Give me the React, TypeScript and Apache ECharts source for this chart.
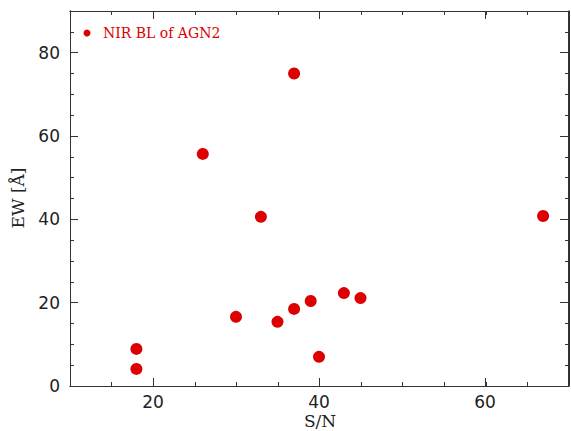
import React, { useEffect, useRef } from "react";
import * as echarts from "echarts";

const seriesName = "NIR BL of AGN2";
const xTitle = "S/N";
const yTitle = "EW [Å]";
const snValues = [18, 18, 26, 30, 33, 35, 37, 37, 39, 40, 43, 45, 67];
const ewValues = [8.9, 4.1, 55.7, 16.6, 40.6, 15.4, 75.0, 18.5, 20.4, 7.0, 22.3, 21.1, 40.8];
const xMajorTicks = [20, 40, 60];
const yMajorTicks = [0, 20, 40, 60, 80];
const xRange = [10, 70];
const yRange = [0, 90];

const AXIS_COLOR = "#333";
const RED = "#dc0000";
const numFont = "DejaVu Sans";
const serifFont = "DejaVu Serif";

export default function App() {
  const ref = useRef<HTMLDivElement>(null);
  useEffect(() => {
    if (!ref.current) return;
    const chart = echarts.init(ref.current, undefined, { renderer: "svg" });
    const gridRect = { left: 70, right: 2, top: 11, bottom: 45 };
    const mk = (kind: "x" | "y", gi: number, pos: string, major: boolean, labels: boolean) => {
      const customs = kind === "x" ? xMajorTicks : yMajorTicks;
      return {
        type: "value",
        gridIndex: gi,
        position: pos,
        min: kind === "x" ? xRange[0] : yRange[0],
        max: kind === "x" ? xRange[1] : yRange[1],
        interval: 5,
        axisLine: { show: true, onZero: false, lineStyle: { color: AXIS_COLOR, width: 1 } },
        axisTick: major
          ? { show: true, inside: true, length: 8, customValues: customs, lineStyle: { color: AXIS_COLOR, width: 1 } }
          : { show: true, inside: true, length: 4, lineStyle: { color: AXIS_COLOR, width: 1 } },
        axisLabel: labels
          ? {
              show: true,
              margin: kind === "x" ? 7 : 10,
              fontFamily: numFont,
              fontSize: 17,
              color: "#222",
              formatter: (v: number) => (customs.indexOf(v) >= 0 ? String(v) : ""),
            }
          : { show: false },
        splitLine: { show: false },
      } as any;
    };
    chart.setOption({
      animation: false,
      grid: [{ ...gridRect }, { ...gridRect }],
      graphic: [
        {
          type: "circle",
          shape: { cx: 87, cy: 33, r: 3.5 },
          style: { fill: RED },
        },
        {
          type: "text",
          x: 103,
          y: 33,
          style: {
            text: seriesName,
            fontFamily: serifFont,
            fontSize: 14,
            fill: RED,
            textAlign: "left",
            textVerticalAlign: "middle",
          },
        },
        {
          type: "text",
          x: 320,
          y: 421,
          style: {
            text: xTitle,
            fontFamily: serifFont,
            fontSize: 17,
            fill: "#222",
            textAlign: "center",
            textVerticalAlign: "middle",
          },
        },
        {
          type: "text",
          x: 18,
          y: 198,
          rotation: Math.PI / 2,
          style: {
            text: yTitle,
            fontFamily: serifFont,
            fontSize: 17,
            fill: "#222",
            textAlign: "center",
            textVerticalAlign: "middle",
          },
        },
      ],
      xAxis: [
        mk("x", 0, "bottom", true, true),
        mk("x", 0, "top", true, false),
        mk("x", 1, "bottom", false, false),
        mk("x", 1, "top", false, false),
      ],
      yAxis: [
        mk("y", 0, "left", true, true),
        mk("y", 0, "right", true, false),
        mk("y", 1, "left", false, false),
        mk("y", 1, "right", false, false),
      ],
      series: [
        {
          name: seriesName,
          type: "scatter",
          symbolSize: 12,
          itemStyle: { color: RED, opacity: 1 },
          data: snValues.map((x, i) => [x, ewValues[i]]),
        },
      ],
    });
    return () => chart.dispose();
  }, []);
  return <div ref={ref} style={{ position: "absolute", left: 0, top: 0, width: 571, height: 431 }} />;
}
